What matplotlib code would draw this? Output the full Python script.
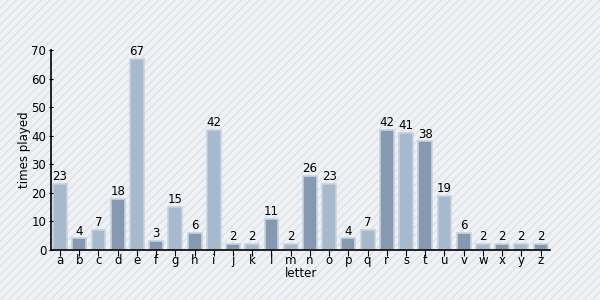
import matplotlib
matplotlib.use('Agg')
import matplotlib.pyplot as plt
from matplotlib.patches import Rectangle

letters = list('abcdefghijklmnopqrstuvwxyz')
times_played = [23, 4, 7, 18, 67, 3, 15, 6, 42, 2, 2, 11, 2, 26, 23, 4, 7, 42, 41, 38, 19, 6, 2, 2, 2, 2]

LIGHT = '#a6b9cd'
DARK = '#8799b0'
EDGE = '#c6d3e0'

plt.rcParams['hatch.linewidth'] = 0.8

fig = plt.figure(figsize=(6, 3), dpi=100, facecolor='#eff1f4')
# striped background
fig.patches.append(Rectangle((0, 0), 1, 1, transform=fig.transFigure, facecolor='#eff1f4',
                             edgecolor='#d9dee5', linewidth=0, hatch='////', zorder=-10))
ax = fig.add_axes([0.085, 0.167, 0.832, 0.666])
ax.patch.set_alpha(0)

x = range(len(letters))
colors = [LIGHT if i % 2 == 0 else DARK for i in x]
bars = ax.bar(x, times_played, width=0.72, color=colors, edgecolor=EDGE, linewidth=1.2)
for i, v in enumerate(times_played):
    ax.text(i, v + 0.3, str(v), ha='center', va='bottom', fontsize=8.5, color='black')

ax.set_xlim(-0.47, 25.5)
ax.set_ylim(0, 70)
ax.set_yticks(range(0, 71, 10))
ax.set_xticks(list(x))
ax.set_xticklabels(letters, fontsize=8.5)
ax.tick_params(axis='y', labelsize=8.5, length=3, direction='inout', pad=2)
ax.tick_params(axis='x', length=4, pad=-1)
for s in ['top', 'right']:
    ax.spines[s].set_visible(False)
ax.spines['left'].set_linewidth(1.2)
ax.spines['bottom'].set_linewidth(1.2)
ax.set_xlabel('letter', fontsize=8.5, labelpad=0)
ax.set_ylabel('times played', fontsize=8.5, labelpad=0)

fig.savefig('out.png', dpi=100, facecolor=fig.get_facecolor())
